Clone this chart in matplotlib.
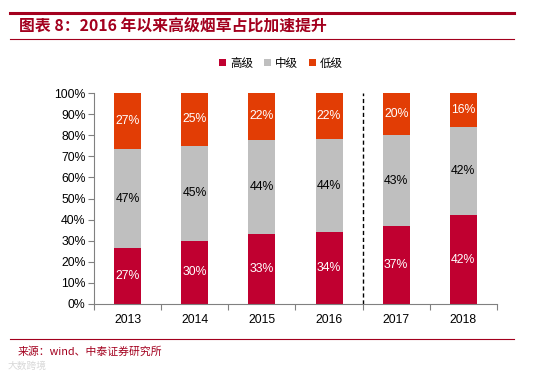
import matplotlib
matplotlib.use("Agg")
import matplotlib.pyplot as plt
import numpy as np
from matplotlib.lines import Line2D
from matplotlib.ticker import FixedLocator, PercentFormatter

plt.rcParams['font.family'] = ['Liberation Sans', 'Noto Sans CJK SC', 'DejaVu Sans']

years = ['2013', '2014', '2015', '2016', '2017', '2018']
series_names = ['高级', '中级', '低级']
high = [27, 30, 33, 34, 37, 42]
mid = [47, 45, 44, 44, 43, 42]
low = [27, 25, 22, 22, 20, 16]
colors = ['#C00030', '#BFBFBF', '#E23D05']
text_colors = ['white', 'black', 'white']

W, H = 557, 377
fig = plt.figure(figsize=(W / 100, H / 100), dpi=100)
ax = fig.add_axes([94 / W, 1 - 304 / H, (497 - 94) / W, (304 - 93) / H])

data = np.array([high, mid, low], dtype=float)
totals = data.sum(axis=0)
shares = data / totals * 100
x = np.arange(len(years))
bottom = np.zeros(len(years))
for i, name in enumerate(series_names):
    ax.bar(x, shares[i], 0.4, bottom=bottom, color=colors[i], label=name, zorder=2)
    for j in range(len(years)):
        ax.text(x[j], bottom[j] + shares[i][j] / 2, f"{int(data[i][j])}%",
                ha='center', va='center', fontsize=8.8, color=text_colors[i], zorder=3)
    bottom += shares[i]

ax.set_xlim(-0.5, len(years) - 0.5)
ax.set_ylim(0, 100)
ax.yaxis.set_major_locator(FixedLocator(np.arange(0, 101, 10)))
ax.yaxis.set_major_formatter(PercentFormatter(decimals=0))
ax.set_xticks(x)
ax.set_xticklabels(years)
ax.xaxis.set_minor_locator(FixedLocator(np.arange(-0.5, len(years), 1.0)))
ax.tick_params(axis='x', which='major', length=0, pad=7, labelsize=8.8)
ax.tick_params(axis='x', which='minor', length=4, color='#808080', width=0.8)
ax.tick_params(axis='y', which='major', length=4, color='#808080', width=0.8, labelsize=8.8, pad=2)
for s in ['top', 'right']:
    ax.spines[s].set_visible(False)
for s in ['left', 'bottom']:
    ax.spines[s].set_color('#808080')
    ax.spines[s].set_linewidth(0.8)

ax.axvline(3.5, color='black', linestyle=(0, (3, 2)), linewidth=1.0, zorder=1)

leg = fig.legend(loc='center', bbox_to_anchor=(281 / W, 1 - 63 / H), ncol=3, frameon=False,
                 handlelength=0.6, handleheight=0.6, handletextpad=0.4,
                 columnspacing=0.9, prop={'family': ['Noto Sans CJK SC'], 'size': 8.3})

# Header / footer decorations
dark_red = '#A3001E'
fig.add_artist(Line2D([10 / W, 514 / W], [1 - 13 / H, 1 - 13 / H], color=dark_red, linewidth=2.2))
fig.add_artist(Line2D([10 / W, 514 / W], [1 - 39 / H, 1 - 39 / H], color=dark_red, linewidth=0.8))
fig.add_artist(Line2D([10 / W, 514 / W], [1 - 339 / H, 1 - 339 / H], color=dark_red, linewidth=0.8))
fig.text(19 / W, 1 - 27 / H, '图表 8：2016 年以来高级烟草占比加速提升', color=dark_red,
         fontsize=11.4, fontweight='bold', va='center', ha='left',
         family=['Noto Sans CJK SC', 'DejaVu Sans'])
fig.text(18 / W, 1 - 352 / H, '来源：wind、中泰证券研究所', color=dark_red,
         fontsize=7.8, va='center', ha='left', family=['Noto Sans CJK SC', 'DejaVu Sans'])
fig.text(8 / W, 1 - 366 / H, '大数跨境', color='#D8D8D8',
         fontsize=7, va='center', ha='left', family=['Noto Sans CJK SC', 'DejaVu Sans'])

fig.savefig('out.png', dpi=100)
